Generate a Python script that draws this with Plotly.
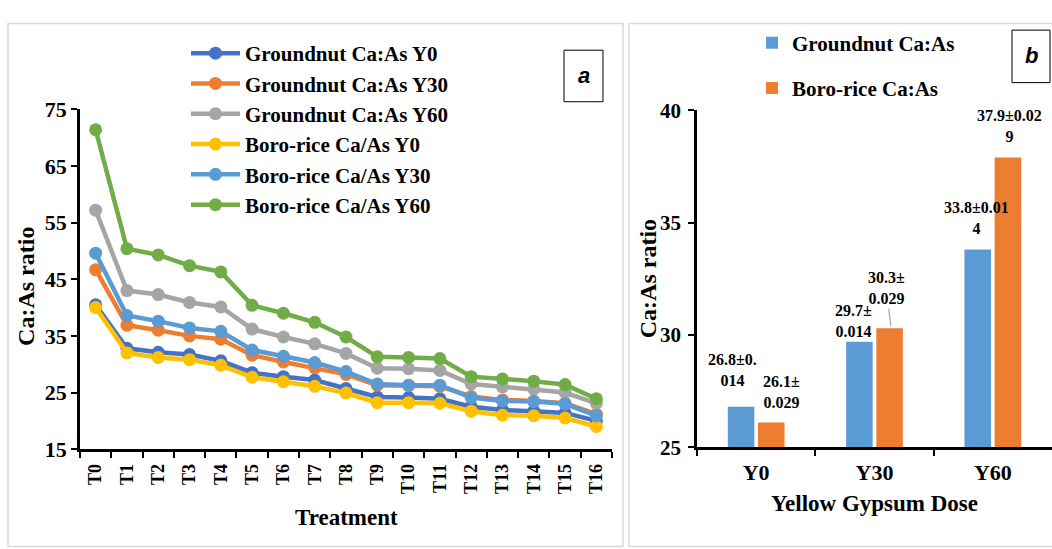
import plotly.graph_objects as go

# ---- panel a: Ca:As ratio by treatment ----
treatments = ["T0", "T1", "T2", "T3", "T4", "T5", "T6", "T7", "T8",
              "T9", "T10", "T11", "T12", "T13", "T14", "T15", "T16"]
groundnut_y0 = [40.5, 32.8, 32.1, 31.7, 30.6, 28.5, 27.8, 27.2, 25.7,
                24.2, 24.1, 23.9, 22.5, 21.9, 21.7, 21.4, 20.0]
groundnut_y30 = [46.7, 36.9, 36.0, 35.0, 34.4, 31.6, 30.4, 29.4, 28.2,
                 26.3, 26.2, 26.1, 24.3, 23.7, 23.5, 23.1, 21.2]
groundnut_y60 = [57.2, 43.0, 42.3, 40.9, 40.1, 36.2, 34.8, 33.6, 31.9,
                 29.3, 29.2, 28.9, 26.5, 26.0, 25.6, 25.0, 23.1]
rice_y0 = [40.0, 32.0, 31.2, 30.8, 29.8, 27.7, 26.9, 26.1, 24.9,
           23.2, 23.2, 23.1, 21.7, 21.0, 20.9, 20.5, 19.0]
rice_y30 = [49.6, 38.6, 37.6, 36.4, 35.8, 32.5, 31.4, 30.3, 28.7,
            26.5, 26.3, 26.3, 24.1, 23.5, 23.4, 23.0, 20.9]
rice_y60 = [71.4, 50.4, 49.3, 47.4, 46.3, 40.4, 39.0, 37.4, 34.8,
            31.3, 31.2, 31.0, 27.8, 27.4, 27.0, 26.4, 23.9]

line_names = ["Groundnut Ca:As Y0", "Groundnut Ca:As Y30", "Groundnut Ca:As Y60",
              "Boro-rice Ca/As Y0", "Boro-rice Ca/As Y30", "Boro-rice Ca/As Y60"]
line_series = [groundnut_y0, groundnut_y30, groundnut_y60, rice_y0, rice_y30, rice_y60]
line_colors = ["#4472C4", "#ED7D31", "#A5A5A5", "#FFC000", "#5B9BD5", "#70AD47"]

# ---- panel b: Ca:As ratio by yellow gypsum dose ----
doses = ["Y0", "Y30", "Y60"]
groundnut_ratio = [26.8, 29.7, 33.8]
groundnut_se = ["0.014", "0.014", "0.014"]
rice_ratio = [26.1, 30.3, 37.9]
rice_se = ["0.029", "0.029", "0.029"]

W, H = 1052, 549
SERIF = "Liberation Serif"


def px(x):
    return x / W


def py(y):
    return 1 - y / H


fig = go.Figure()

for name, vals, col in zip(line_names, line_series, line_colors):
    fig.add_trace(go.Scatter(
        x=treatments, y=vals, name=name, mode="lines+markers",
        line=dict(color=col, width=4.5),
        marker=dict(color=col, size=13),
        xaxis="x", yaxis="y", legend="legend",
    ))

fig.add_trace(go.Bar(x=doses, y=groundnut_ratio, name="Groundnut Ca:As",
                     marker=dict(color="#5B9BD5", line=dict(width=0)),
                     xaxis="x2", yaxis="y2", legend="legend2",
                     legendgroup="g1", offsetgroup="g1"))
fig.add_trace(go.Bar(x=doses, y=rice_ratio, name="Boro-rice Ca:As",
                     marker=dict(color="#ED7D31", line=dict(width=0)),
                     xaxis="x2", yaxis="y2", legend="legend2",
                     legendgroup="g2", offsetgroup="g2"))

axis_common = dict(showline=True, linecolor="black", linewidth=2.5,
                   showgrid=False, zeroline=False, ticks="outside",
                   tickcolor="black", tickwidth=1.5, ticklen=6)

fig.update_layout(
    width=W, height=H,
    margin=dict(l=0, r=0, t=0, b=0),
    paper_bgcolor="white", plot_bgcolor="white",
    font=dict(family=SERIF, color="black", weight="bold"),
    barmode="group", bargap=0.49, bargroupgap=0.12,
    xaxis=dict(domain=[px(80), px(612)], anchor="y", type="category",
               range=[-0.5, 16.5], tickson="boundaries", tickangle=-90,
               ticklabelstandoff=5,
               tickfont=dict(family=SERIF, size=18, weight="bold"),
               **axis_common),
    yaxis=dict(domain=[py(458), py(102)], anchor="x", range=[15, 75],
               tick0=15, dtick=10,
               tickfont=dict(family=SERIF, size=22, weight="bold"),
               **axis_common),
    xaxis2=dict(domain=[px(697), 1.0], anchor="y2", type="category",
                range=[-0.5, 2.5], tickson="boundaries", ticklabelstandoff=4,
                tickfont=dict(family=SERIF, size=22, weight="bold"),
                **axis_common),
    yaxis2=dict(domain=[py(456), py(103)], anchor="x2", range=[25, 40],
                tick0=25, dtick=5, ticklabelstandoff=3,
                tickfont=dict(family=SERIF, size=21, weight="bold"),
                **axis_common),
    legend=dict(x=px(186), y=py(22), xanchor="left", yanchor="top",
                bgcolor="rgba(0,0,0,0)", itemwidth=49, tracegroupgap=0,
                font=dict(family=SERIF, size=21, weight="bold")),
    legend2=dict(x=px(752), y=py(11), xanchor="left", yanchor="top",
                 bgcolor="rgba(0,0,0,0)", tracegroupgap=15,
                 font=dict(family=SERIF, size=21, weight="bold")),
)

# panel frames and the a / b tags
shapes = [
    dict(type="rect", xref="paper", yref="paper", x0=px(8), x1=px(623),
         y0=py(560), y1=py(12), line=dict(color="#D9D9D9", width=1.5)),
    dict(type="rect", xref="paper", yref="paper", x0=px(629), x1=px(1070),
         y0=py(560), y1=py(12), line=dict(color="#D9D9D9", width=1.5)),
    dict(type="rect", xref="paper", yref="paper", x0=px(564), x1=px(603),
         y0=py(94), y1=py(40), line=dict(color="black", width=1),
         fillcolor="white"),
    dict(type="rect", xref="paper", yref="paper", x0=px(1012), x1=px(1050),
         y0=py(74), y1=py(19), line=dict(color="black", width=1),
         fillcolor="white"),
]


def paper_text(text, x, y, size, angle=0, **font_extra):
    return dict(text=text, x=px(x), y=py(y), xref="paper", yref="paper",
                xanchor="center", yanchor="middle", textangle=angle,
                showarrow=False, font=dict(size=size, **font_extra))


annotations = [
    paper_text("a", 583.5, 67, 22, family="Liberation Sans",
               weight="bold", style="italic"),
    paper_text("b", 1031, 46, 22, family="Liberation Sans",
               weight="bold", style="italic"),
    paper_text("Ca:As ratio", 26, 288, 24, angle=-90),
    paper_text("Treatment", 346, 530, 23),
    paper_text("Ca:As ratio", 648, 280, 24, angle=-90),
    paper_text("Yellow Gypsum Dose", 874.5, 515, 23),
]

# value ± SE labels above the bars
bar_offset = 0.141
label_specs = [
    # (category index, side, value, se, break position, dx px, dy px)
    (0, -1, groundnut_ratio[0], groundnut_se[0], 7, -7, 16),
    (1, -1, groundnut_ratio[1], groundnut_se[1], 5, -4, 0),
    (2, -1, groundnut_ratio[2], groundnut_se[2], 9, 0, 11),
    (0, 1, rice_ratio[0], rice_se[0], 5, 9, 10),
    (2, 1, rice_ratio[2], rice_se[2], 9, 0, 10),
]
for idx, side, val, se, brk, dx, dy in label_specs:
    s = f"{val}±{se}"
    annotations.append(dict(
        text=s[:brk] + "<br>" + s[brk:], x=idx + side * bar_offset, y=val,
        xref="x2", yref="y2", xanchor="center", yanchor="bottom",
        xshift=dx, yshift=dy, showarrow=False, font=dict(size=16)))

# Y30 rice label sits higher with a leader line down to the bar
s = f"{rice_ratio[1]}±{rice_se[1]}"
annotations.append(dict(
    text=s[:5] + "<br>" + s[5:], x=1 + bar_offset, y=rice_ratio[1],
    xref="x2", yref="y2", showarrow=True, arrowhead=0, arrowwidth=1.2,
    arrowcolor="#A5A5A5", ax=-5, ay=-40, standoff=2, startstandoff=0,
    font=dict(size=16)))

fig.update_layout(shapes=shapes, annotations=annotations)

fig.write_html("out.html")
